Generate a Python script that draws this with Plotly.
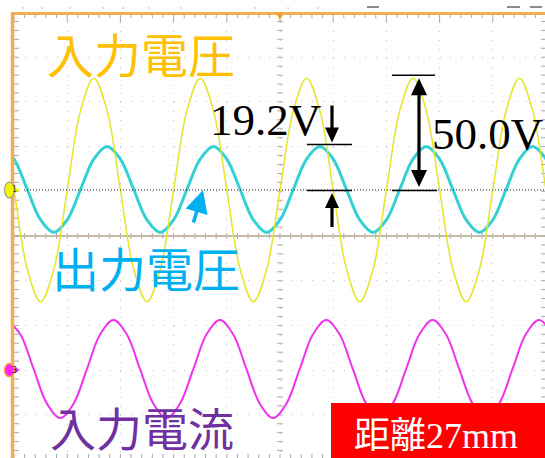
import plotly.graph_objects as go

# ---------------- data (screen divisions) ----------------
# time axis in horizontal divisions (0..10), value axis in vertical divisions (-5..5)
yellow_t = [-0.5, -0.25, 0.0, 0.25, 0.5, 0.75, 1.0, 1.25, 1.5, 1.75, 2.0, 2.25, 2.5, 2.75, 3.0, 3.25,
            3.5, 3.75, 4.0, 4.25, 4.5, 4.75, 5.0, 5.25, 5.5, 5.75, 6.0, 6.25, 6.5, 6.75, 7.0, 7.25,
            7.5, 7.75, 8.0, 8.25, 8.5, 8.75, 9.0, 9.25, 9.5, 9.75, 10.0, 10.25]
yellow_v = [3.53, 2.80, 1.03, -0.74, -1.47, -0.74, 1.03, 2.80, 3.53, 2.80, 1.03, -0.74, -1.47, -0.74, 1.03, 2.80,
            3.53, 2.80, 1.03, -0.74, -1.47, -0.74, 1.03, 2.80, 3.53, 2.80, 1.03, -0.74, -1.47, -0.74, 1.03, 2.80,
            3.53, 2.80, 1.03, -0.74, -1.47, -0.74, 1.03, 2.80, 3.53, 2.80, 1.03, -0.74]

cyan_t = [-0.25, 0.0, 0.25, 0.5, 0.75, 1.0, 1.25, 1.5, 1.75, 2.0, 2.25, 2.5, 2.75, 3.0, 3.25, 3.5,
          3.75, 4.0, 4.25, 4.5, 4.75, 5.0, 5.25, 5.5, 5.75, 6.0, 6.25, 6.5, 6.75, 7.0, 7.25, 7.5,
          7.75, 8.0, 8.25, 8.5, 8.75, 9.0, 9.25, 9.5, 9.75, 10.0, 10.25]
cyan_v = [2.00, 1.72, 1.04, 0.36, 0.08, 0.36, 1.04, 1.72, 2.00, 1.72, 1.04, 0.36, 0.08, 0.36, 1.04, 1.72,
          2.00, 1.72, 1.04, 0.36, 0.08, 0.36, 1.04, 1.72, 2.00, 1.72, 1.04, 0.36, 0.08, 0.36, 1.04, 1.72,
          2.00, 1.72, 1.04, 0.36, 0.08, 0.36, 1.04, 1.72, 2.00, 1.72, 1.04]

magenta_t = [-0.13, 0.12, 0.37, 0.62, 0.87, 1.12, 1.37, 1.62, 1.87, 2.12, 2.37, 2.62, 2.87, 3.12, 3.37, 3.62,
             3.87, 4.12, 4.37, 4.62, 4.87, 5.12, 5.37, 5.62, 5.87, 6.12, 6.37, 6.62, 6.87, 7.12, 7.37, 7.62,
             7.87, 8.12, 8.37, 8.62, 8.87, 9.12, 9.37, 9.62, 9.87, 10.12]
magenta_v = [-1.88, -2.20, -2.98, -3.75, -4.07, -3.75, -2.98, -2.20, -1.88, -2.20, -2.98, -3.75, -4.07, -3.75,
             -2.98, -2.20, -1.88, -2.20, -2.98, -3.75, -4.07, -3.75, -2.98, -2.20, -1.88, -2.20, -2.98, -3.75,
             -4.07, -3.75, -2.98, -2.20, -1.88, -2.20, -2.98, -3.75, -4.07, -3.75, -2.98, -2.20, -1.88, -2.20]

ch1_ground = 1.03
ch3_ground = -3.00

label_in_v = "入力電圧"
label_out_v = "出力電圧"
label_in_i = "入力電流"
label_out_amp = "19.2V"
label_in_amp = "50.0V"
label_dist = "距離27mm"

# ---------------- geometry helpers ----------------
W, H = 545, 458
L, T = 14, 13
PW, PH = W - L, H - T
XPD, YPD, YC = 53.2, 44.7, 236


def px_x(px):
    return (px - L) / XPD


def px_y(py):
    return (YC - py) / YPD


def pap_x(px):
    return (px - L) / PW


def pap_y(py):
    return (H - py) / PH


fig = go.Figure()
fig.add_trace(go.Scatter(x=magenta_t, y=magenta_v, mode="lines", line=dict(color="#EE33EE", width=2, shape="spline"),
                         hoverinfo="skip", showlegend=False))
fig.add_trace(go.Scatter(x=cyan_t, y=cyan_v, mode="lines", line=dict(color="#33D0D4", width=3, shape="spline"),
                         hoverinfo="skip", showlegend=False))
fig.add_trace(go.Scatter(x=yellow_t, y=yellow_v, mode="lines", line=dict(color="#E4E42A", width=1.5, shape="spline"),
                         hoverinfo="skip", showlegend=False))

shapes = []
tick_c = "#B5AD9E"
edge_c = "#A8A8A8"
ytop, ybot = px_y(T), px_y(459)
xright = px_x(546)

# ticks along centre horizontal line and top/bottom edges
for k in range(0, 51):
    xv = k * 0.2
    shapes.append(dict(type="line", xref="x", yref="y", ysizemode="pixel", yanchor=0, x0=xv, x1=xv, y0=-3, y1=3,
                       line=dict(color=tick_c, width=1), layer="below"))
    major = (k % 5 == 0)
    shapes.append(dict(type="line", xref="x", yref="y", ysizemode="pixel", yanchor=ytop, x0=xv, x1=xv, y0=0,
                       y1=-9 if major else -5, line=dict(color=edge_c, width=1), layer="below"))
    shapes.append(dict(type="line", xref="x", yref="y", ysizemode="pixel", yanchor=ybot, x0=xv, x1=xv, y0=0,
                       y1=5, line=dict(color=edge_c, width=1), layer="below"))
# ticks along centre vertical line and left/right edges
for k in range(-25, 26):
    yv = k * 0.2
    shapes.append(dict(type="line", xref="x", yref="y", xsizemode="pixel", xanchor=5, x0=-3, x1=3, y0=yv, y1=yv,
                       line=dict(color=tick_c, width=1), layer="below"))
    shapes.append(dict(type="line", xref="x", yref="y", xsizemode="pixel", xanchor=0, x0=0, x1=5, y0=yv, y1=yv,
                       line=dict(color=edge_c, width=1), layer="below"))
    shapes.append(dict(type="line", xref="x", yref="y", xsizemode="pixel", xanchor=xright, x0=0, x1=-5, y0=yv, y1=yv,
                       line=dict(color=edge_c, width=1), layer="below"))

# centre horizontal line
shapes.append(dict(type="line", xref="paper", yref="y", x0=0, x1=1, y0=0, y1=0,
                   line=dict(color="#C4BAA8", width=2), layer="below"))
# orange frame
shapes.append(dict(type="line", xref="paper", yref="paper", x0=pap_x(11), x1=1.01, y0=pap_y(13.5), y1=pap_y(13.5),
                   line=dict(color="#F4AE52", width=3)))
shapes.append(dict(type="line", xref="paper", yref="paper", x0=pap_x(12.5), x1=pap_x(12.5), y0=pap_y(12), y1=-0.01,
                   line=dict(color="#F4AE52", width=3.5)))
# trigger position marker (top centre)
shapes.append(dict(type="path", xref="x", yref="y", xsizemode="pixel", ysizemode="pixel", xanchor=5, yanchor=ytop,
                   path="M -4,0 L 4,0 L 0,-7 Z", fillcolor="#F4A030", line=dict(width=0)))
# header remnants
for a, b in [(367, 379), (507, 520), (530, 542)]:
    shapes.append(dict(type="line", xref="paper", yref="paper", x0=pap_x(a), x1=pap_x(b), y0=pap_y(7), y1=pap_y(7),
                       line=dict(color="#8C8C8C", width=2)))
for a in [22, 41, 69, 102, 122, 148, 180, 254, 287, 317]:
    shapes.append(dict(type="line", xref="paper", yref="paper", x0=pap_x(a), x1=pap_x(a + 2), y0=pap_y(8), y1=pap_y(8),
                       line=dict(color="#B8B8D0", width=1)))

# channel markers
shapes.append(dict(type="path", xref="paper", yref="y", xsizemode="pixel", ysizemode="pixel",
                   xanchor=pap_x(15), yanchor=ch1_ground, path="M 0,-3 L 5,0 L 0,3 Z",
                   fillcolor="#F0F000", line=dict(width=0)))
shapes.append(dict(type="circle", xref="paper", yref="y", xsizemode="pixel", ysizemode="pixel",
                   xanchor=pap_x(9.5), yanchor=ch1_ground, x0=-5, x1=5, y0=-8, y1=8,
                   fillcolor="#F5F500", line=dict(color="#A8A8A0", width=1.5)))
shapes.append(dict(type="path", xref="paper", yref="y", xsizemode="pixel", ysizemode="pixel",
                   xanchor=pap_x(15), yanchor=ch3_ground, path="M 0,-3 L 5,0 L 0,3 Z",
                   fillcolor="#EE33EE", line=dict(width=0)))
shapes.append(dict(type="circle", xref="paper", yref="y", xsizemode="pixel", ysizemode="pixel",
                   xanchor=pap_x(9.5), yanchor=ch3_ground, x0=-5, x1=5, y0=-6.5, y1=6.5,
                   fillcolor="#FF22FF", line=dict(color="#F4A040", width=1.5)))

# ground reference dotted line for ch1
shapes.append(dict(type="line", xref="paper", yref="y", x0=pap_x(24), x1=1, y0=ch1_ground, y1=ch1_ground,
                   line=dict(color="#222222", width=1, dash="1px,2px")))

# measurement arrows ---------------------------------------------------------
yel_peak = max(yellow_v)
cy_peak = max(cyan_v)
blk = "#000000"


def arrow_poly(length, hw=8, hl=17, sw=1.6, direction=1, double=False):
    # tip at (0,0); body extends downward when direction=1 (arrow points up)
    d = -direction
    pts = [(0, 0), (hw, d * hl), (sw, d * hl)]
    if double:
        pts += [(sw, d * (length - hl)), (hw, d * (length - hl)), (0, d * length), (-hw, d * (length - hl)),
                (-sw, d * (length - hl))]
    else:
        pts += [(sw, d * length), (-sw, d * length)]
    pts += [(-sw, d * hl), (-hw, d * hl)]
    return "M " + " L ".join(f"{a:.1f},{b:.1f}" for a, b in pts) + " Z"


# 50.0V
x50 = px_x(419)
len50 = (yel_peak - ch1_ground) * YPD - 3
shapes.append(dict(type="path", xref="x", yref="y", xsizemode="pixel", ysizemode="pixel", xanchor=x50,
                   yanchor=yel_peak, path=arrow_poly(len50, double=True), fillcolor=blk, line=dict(width=0)))
shapes.append(dict(type="line", xref="x", yref="y", x0=px_x(392), x1=px_x(435), y0=yel_peak + 3 / YPD,
                   y1=yel_peak + 3 / YPD, line=dict(color=blk, width=1.5)))
shapes.append(dict(type="line", xref="x", yref="y", x0=px_x(392), x1=px_x(437), y0=ch1_ground - 0.5 / YPD,
                   y1=ch1_ground - 0.5 / YPD, line=dict(color=blk, width=1.5)))
# 19.2V
x19 = px_x(332)
shapes.append(dict(type="line", xref="x", yref="y", x0=px_x(307), x1=px_x(352), y0=cy_peak + 2 / YPD,
                   y1=cy_peak + 2 / YPD, line=dict(color=blk, width=1.5)))
shapes.append(dict(type="line", xref="x", yref="y", x0=px_x(307), x1=px_x(352), y0=ch1_ground - 0.5 / YPD,
                   y1=ch1_ground - 0.5 / YPD, line=dict(color=blk, width=1.5)))
shapes.append(dict(type="path", xref="x", yref="y", xsizemode="pixel", ysizemode="pixel", xanchor=x19,
                   yanchor=cy_peak + 4 / YPD, path=arrow_poly(37, hw=7, hl=15, direction=-1),
                   fillcolor=blk, line=dict(width=0)))
shapes.append(dict(type="path", xref="x", yref="y", xsizemode="pixel", ysizemode="pixel", xanchor=x19,
                   yanchor=ch1_ground - 3 / YPD, path=arrow_poly(34, hw=7, hl=15, direction=1),
                   fillcolor=blk, line=dict(width=0)))

# red distance box
shapes.append(dict(type="rect", xref="paper", yref="paper", x0=pap_x(331), x1=1.01, y0=-0.01, y1=pap_y(403),
                   fillcolor="#FF0000", line=dict(width=0)))

annotations = []
jp = "Noto Sans CJK JP"
serif = "Liberation Serif, Times New Roman, serif"
annotations.append(dict(text=label_in_v, xref="paper", yref="paper", x=pap_x(141), y=pap_y(52.5), showarrow=False,
                        xanchor="center", yanchor="middle", font=dict(family=jp, size=47, color="#FFC000")))
annotations.append(dict(text=label_out_v, xref="paper", yref="paper", x=pap_x(146), y=pap_y(266), showarrow=False,
                        xanchor="center", yanchor="middle", font=dict(family=jp, size=47, color="#00B0F0")))
annotations.append(dict(text=label_in_i, xref="paper", yref="paper", x=pap_x(142), y=pap_y(426), showarrow=False,
                        xanchor="center", yanchor="middle", font=dict(family=jp, size=46, color="#7030A0")))
annotations.append(dict(text=label_out_amp, xref="paper", yref="paper", x=pap_x(208), y=pap_y(120), showarrow=False,
                        xanchor="left", yanchor="middle", font=dict(family=serif, size=45, color="#000000")))
annotations.append(dict(text=label_in_amp, xref="paper", yref="paper", x=pap_x(430), y=pap_y(134), showarrow=False,
                        xanchor="left", yanchor="middle", font=dict(family=serif, size=45, color="#000000")))
annotations.append(dict(text=label_dist, xref="paper", yref="paper", x=pap_x(436), y=pap_y(435.5), showarrow=False,
                        xanchor="center", yanchor="middle",
                        font=dict(family="Liberation Serif, Noto Sans CJK JP", size=36, color="#FFFFFF")))
# blue pointer arrow to output-voltage trace
annotations.append(dict(text="", x=px_x(203), y=ch1_ground, xref="x", yref="y", showarrow=True, ax=-10, ay=34,
                        axref="pixel", ayref="pixel", arrowhead=2, arrowsize=1.3, arrowwidth=3.5,
                        arrowcolor="#00B0F0"))
annotations.append(dict(text="1", xref="paper", yref="y", x=pap_x(9.5), y=ch1_ground, showarrow=False,
                        font=dict(family="DejaVu Sans", size=8, color="#555500")))
annotations.append(dict(text="3", xref="paper", yref="y", x=pap_x(9.5), y=ch3_ground, showarrow=False,
                        font=dict(family="DejaVu Sans", size=8, color="#550055")))

fig.update_layout(
    width=W, height=H,
    margin=dict(l=L, r=0, t=T, b=0, pad=0),
    paper_bgcolor="#FFFFFF", plot_bgcolor="#FFFFFF",
    showlegend=False,
    xaxis=dict(range=[0, px_x(W)], dtick=1, tick0=0, showgrid=True, gridcolor="#C4C4C4", gridwidth=1,
               griddash="1px,7.94px", zeroline=False, showticklabels=False, ticks="", showline=False,
               fixedrange=True),
    yaxis=dict(range=[px_y(H), px_y(T)], dtick=1, tick0=0, showgrid=True, gridcolor="#C4C4C4", gridwidth=1,
               griddash="1px,9.64px", zeroline=False, showticklabels=False, ticks="", showline=False,
               fixedrange=True),
    shapes=shapes,
    annotations=annotations,
)

fig.write_html("out.html", config=dict(displayModeBar=False),
               post_script="document.body.style.margin='0';document.body.style.overflow='hidden';")
